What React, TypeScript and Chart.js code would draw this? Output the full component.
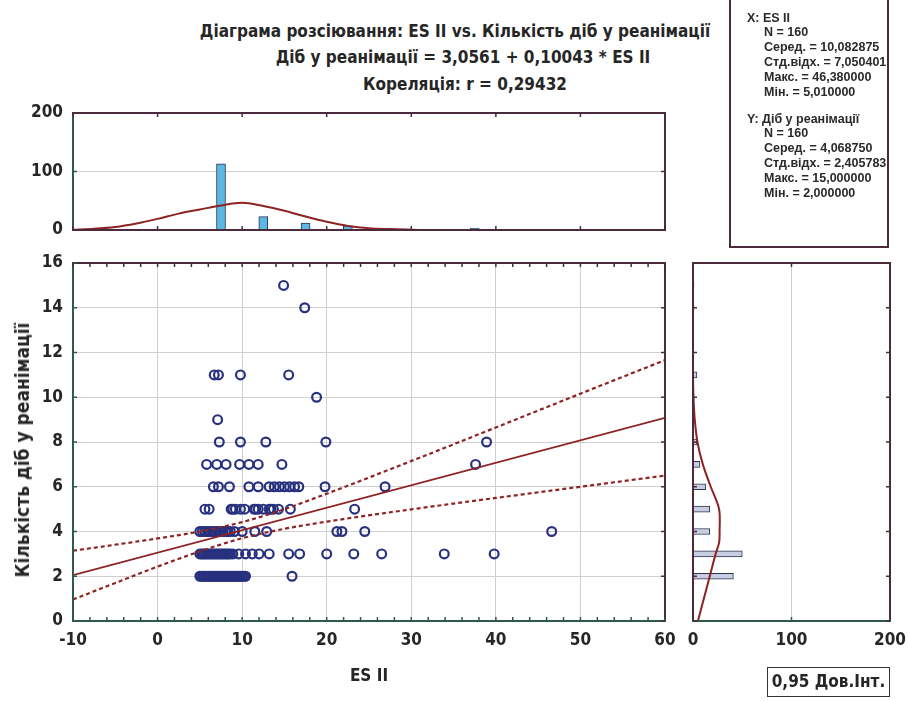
import React, { useEffect, useRef } from "react";
import { Chart, registerables } from "chart.js";

Chart.register(...registerables);

// ---------------- DATA ----------------
const titleLines = [
  "Діаграма розсіювання: ES II vs. Кількість діб у реанімації",
  "Діб у реанімації = 3,0561 + 0,10043 * ES II",
  "Кореляція: r = 0,29432",
];
const xAxisTitle = "ES II";
const yAxisTitle = "Кількість діб у реанімації";
const legendLabel = "0,95 Дов.Інт.";
const statsXHead = "X: ES II";
const statsX = ["N = 160", "Серед. = 10,082875", "Стд.відх. = 7,050401", "Макс. = 46,380000", "Мін. = 5,010000"];
const statsYHead = "Y: Діб у реанімації";
const statsY = ["N = 160", "Серед. = 4,068750", "Стд.відх. = 2,405783", "Макс. = 15,000000", "Мін. = 2,000000"];

// scatter: ES II values for each number of days
const days2 = [5.0, 5.2, 5.4, 5.6, 5.8, 6.0, 6.2, 6.4, 6.6, 6.8, 7.0, 7.2, 7.4, 7.6, 7.8, 8.0, 8.2, 8.4, 8.6, 8.8, 9.0, 9.2, 9.4, 9.6, 9.8, 10.0, 10.2, 10.4, 15.9];
const days3 = [5.0, 5.2, 5.4, 5.6, 5.8, 6.0, 6.2, 6.4, 6.6, 6.8, 7.0, 7.2, 7.4, 7.6, 7.8, 8.0, 8.2, 8.4, 8.6, 8.9, 9.6, 10.4, 11.2, 12.0, 13.2, 15.5, 16.8, 20.0, 23.2, 26.5, 33.9, 39.8];
const days4 = [5.0, 5.3, 5.6, 5.9, 6.2, 6.5, 6.8, 7.1, 7.4, 7.7, 8.0, 8.3, 8.6, 9.1, 10.0, 11.5, 12.9, 21.2, 21.8, 24.5, 46.6];
const days5 = [5.6, 6.1, 8.7, 8.9, 9.2, 9.8, 10.3, 11.4, 11.6, 11.9, 12.5, 13.2, 13.4, 13.7, 14.3, 15.7, 23.3];
const days6 = [6.6, 7.2, 8.5, 10.8, 11.9, 13.2, 13.8, 14.4, 15.0, 15.6, 16.2, 16.7, 19.8, 26.9];
const days7 = [5.8, 7.0, 8.1, 9.7, 10.8, 11.9, 14.7, 37.6];
const days8 = [7.3, 9.8, 12.8, 19.9, 38.9];
const days9 = [7.1];
const days10 = [18.8];
const days11 = [6.7, 7.2, 9.8, 15.5];
const days14 = [17.4];
const days15 = [14.9];
const scatterRows: [number, number[]][] = [
  [2, days2], [3, days3], [4, days4], [5, days5], [6, days6], [7, days7],
  [8, days8], [9, days9], [10, days10], [11, days11], [14, days14], [15, days15],
];

// regression line and 0.95 confidence band
const fitX = [-10, 60];
const fitY = [2.05, 9.08];
const bandX = [-10, -5, 0, 5, 10, 15, 20, 30, 40, 50, 60];
const bandUpper = [3.14, 3.41, 3.69, 4.0, 4.42, 5.0, 5.69, 7.15, 8.65, 10.16, 11.66];
const bandLower = [0.96, 1.7, 2.43, 3.11, 3.7, 4.12, 4.44, 4.99, 5.5, 6.0, 6.5];

// top histogram (ES II)
const histXCenters = [7.5, 12.5, 17.5, 22.5, 27.5, 32.5, 37.5, 47.5];
const histXCounts = [113, 23, 12, 7, 2, 1, 3, 1];
const normXAt = [-10, -7.5, -5, -2.5, 0, 2.5, 5, 7.5, 10, 12.5, 15, 17.5, 20, 22.5, 25, 27.5, 30, 35, 40, 50, 60];
const normXVal = [0.5, 2, 5, 11, 19, 28, 35, 42, 46.5, 41, 33, 23, 14, 7, 3, 1.5, 0.5, 0, 0, 0, 0];

// right histogram (days)
const histYValues = [2, 3, 4, 5, 6, 7, 8, 9, 10, 11, 14, 15];
const histYCounts = [41, 50, 17, 17, 13, 7, 4, 1, 1, 4, 1, 1];
const normYAt = [0, 1, 2, 3, 3.5, 4, 5, 6, 7, 8, 9, 10, 11, 16];
const normYVal = [5, 11, 17, 23, 26.5, 27, 26.5, 18, 10, 4.5, 1.8, 0.5, 0, 0];

// ---------------- STYLE ----------------
const FONT = "'Liberation Sans Narrow', 'Arial Narrow', 'DejaVu Sans Condensed', 'Liberation Sans', Arial, sans-serif";
const TEXT = "#262626";
const MAROON = "#4b2a3c";
const GREEN = "#2f5a48";
const GRID = "#cfcfcf";
const LINE_RED = "#8e2323";
const NAVY = "#27317f";

const tickFont = { family: FONT, size: 17, weight: "bold" as const };

const noPadX = (h: number) => (s: any) => { s.height = h; s.paddingLeft = 0; s.paddingRight = 0; };
const noPadY = (w: number) => (s: any) => { s.width = w; s.paddingTop = 0; s.paddingBottom = 0; };

const framePlugin = {
  id: "frame",
  afterDatasetsDraw(chart: any, _args: any, opts: any) {
    const { ctx, chartArea: a, scales } = chart;
    const xs = scales.x;
    const ys = scales.y;
    const len = opts.len ?? 4;
    ctx.save();
    ctx.lineWidth = 2;
    const side = (color: string, x1: number, y1: number, x2: number, y2: number) => {
      ctx.strokeStyle = color;
      ctx.beginPath();
      ctx.moveTo(x1, y1);
      ctx.lineTo(x2, y2);
      ctx.stroke();
    };
    side(opts.top, a.left - 1, a.top, a.right + 1, a.top);
    side(opts.right, a.right, a.top, a.right, a.bottom + 1);
    side(opts.left, a.left, a.top, a.left, a.bottom + 1);
    side(opts.bottom, a.left - 1, a.bottom, a.right + 1, a.bottom);
    ctx.lineWidth = 1.5;
    (opts.xTicks || []).forEach((v: number) => {
      const px = xs.getPixelForValue(v);
      side(opts.bottom, px, a.bottom, px, a.bottom - len);
      side(opts.top, px, a.top, px, a.top + len);
    });
    (opts.yTicks || []).forEach((v: number) => {
      const py = ys.getPixelForValue(v);
      side(opts.left, a.left, py, a.left + len, py);
      side(opts.right, a.right, py, a.right - len, py);
    });
    ctx.restore();
  },
};

function range(a: number, b: number, s: number) {
  const out: number[] = [];
  for (let v = a; v <= b + 1e-9; v += s) out.push(v);
  return out;
}

export default function App() {
  const mainRef = useRef<HTMLCanvasElement>(null);
  const topRef = useRef<HTMLCanvasElement>(null);
  const rightRef = useRef<HTMLCanvasElement>(null);

  useEffect(() => {
    const scatterPts: { x: number; y: number }[] = [];
    scatterRows.forEach(([d, xs]) => xs.forEach((x) => scatterPts.push({ x, y: d })));
    const fitPts = fitX.map((x, i) => ({ x, y: fitY[i] }));
    const upPts = bandX.map((x, i) => ({ x, y: bandUpper[i] }));
    const loPts = bandX.map((x, i) => ({ x, y: bandLower[i] }));

    const main = new Chart(mainRef.current!, {
      type: "scatter",
      data: {
        datasets: [
          { data: fitPts, showLine: true, borderColor: LINE_RED, borderWidth: 1.8, pointRadius: 0, order: 0 } as any,
          { data: upPts, showLine: true, borderColor: LINE_RED, borderWidth: 2.2, borderDash: [4, 3], pointRadius: 0, cubicInterpolationMode: "monotone", order: 0 } as any,
          { data: loPts, showLine: true, borderColor: LINE_RED, borderWidth: 2.2, borderDash: [4, 3], pointRadius: 0, cubicInterpolationMode: "monotone", order: 0 } as any,
          { data: scatterPts, pointRadius: 4.4, borderWidth: 2.2, borderColor: NAVY, backgroundColor: "rgba(255,255,255,0)", order: 1 } as any,
        ],
      },
      options: {
        responsive: false,
        animation: false,
        layout: { padding: { top: 18, right: 15, left: 0, bottom: 0 } },
        plugins: {
          legend: { display: false },
          tooltip: { enabled: false },
          frame: { top: MAROON, right: MAROON, left: GREEN, bottom: GREEN, xTicks: range(-10, 60, 2), yTicks: range(0, 16, 2), len: 4 },
        } as any,
        scales: {
          x: {
            type: "linear", min: -10, max: 60,
            border: { display: false },
            grid: { color: GRID, drawTicks: false },
            ticks: { stepSize: 10, padding: 9, font: tickFont, color: TEXT },
            title: { display: true, text: xAxisTitle, font: tickFont, color: TEXT, padding: { top: 0, bottom: 14 } },
            afterFit: noPadX(80),
          },
          y: {
            type: "linear", min: 0, max: 16,
            border: { display: false },
            grid: { color: GRID, drawTicks: false },
            ticks: { stepSize: 2, padding: 10, font: tickFont, color: TEXT },
            afterFit: noPadY(73),
          },
        } as any,
      },
      plugins: [framePlugin],
    });

    const top = new Chart(topRef.current!, {
      type: "bar",
      data: {
        datasets: [
          { type: "line", data: normXAt.map((x, i) => ({ x, y: normXVal[i] })), borderColor: LINE_RED, borderWidth: 2, pointRadius: 0, cubicInterpolationMode: "monotone", order: 0 } as any,
          { type: "bar", data: histXCenters.map((x, i) => ({ x, y: histXCounts[i] })), barThickness: 9, backgroundColor: "#5cb8e2", borderColor: "#2b3550", borderWidth: 1, order: 1 } as any,
        ],
      },
      options: {
        responsive: false,
        animation: false,
        layout: { padding: { top: 13, right: 15, left: 0, bottom: 10 } },
        plugins: {
          legend: { display: false },
          tooltip: { enabled: false },
          frame: { top: MAROON, right: MAROON, left: GREEN, bottom: MAROON, xTicks: range(-10, 60, 10), yTicks: [100], len: 4 },
        } as any,
        scales: {
          x: { type: "linear", min: -10, max: 60, display: false, offset: false },
          y: {
            type: "linear", min: 0, max: 200,
            border: { display: false },
            grid: { drawTicks: false, color: (c: any) => (c.tick && c.tick.value === 100 ? GRID : "rgba(0,0,0,0)") },
            ticks: { stepSize: 100, padding: 10, font: tickFont, color: TEXT },
            afterFit: noPadY(73),
          },
        } as any,
      },
      plugins: [framePlugin],
    });

    const right = new Chart(rightRef.current!, {
      type: "bar",
      data: {
        datasets: [
          { type: "line", data: normYAt.map((y, i) => ({ x: normYVal[i], y })), borderColor: LINE_RED, borderWidth: 2, pointRadius: 0, tension: 0.3, order: 0 } as any,
          { type: "bar", data: histYValues.map((y, i) => ({ x: histYCounts[i], y })), barThickness: 6, backgroundColor: "#c9cde2", borderColor: "#2b3550", borderWidth: 1, order: 1 } as any,
        ],
      },
      options: {
        indexAxis: "y",
        responsive: false,
        animation: false,
        layout: { padding: { top: 18, right: 18, left: 13, bottom: 0 } },
        plugins: {
          legend: { display: false },
          tooltip: { enabled: false },
          frame: { top: MAROON, right: MAROON, left: MAROON, bottom: GREEN, xTicks: [100], yTicks: range(0, 16, 2), len: 4 },
        } as any,
        scales: {
          x: {
            type: "linear", min: 0, max: 200,
            border: { display: false },
            grid: { drawTicks: false, color: (c: any) => (c.tick && c.tick.value === 100 ? GRID : "rgba(0,0,0,0)") },
            ticks: { stepSize: 100, padding: 9, font: tickFont, color: TEXT },
            afterFit: noPadX(80),
          },
          y: { type: "linear", min: 0, max: 16, display: false, offset: false },
        } as any,
      },
      plugins: [framePlugin],
    });

    return () => {
      main.destroy();
      top.destroy();
      right.destroy();
    };
  }, []);

  const titleCenters = [455, 463, 465];
  const titleYs = [31, 57, 84];
  const statLine = (text: string, left: number, top: number) => (
    <div key={text + top} style={{ position: "absolute", left, top, whiteSpace: "nowrap", fontFamily: "'Liberation Sans', Arial, sans-serif", fontWeight: "bold", fontSize: 12.5, lineHeight: "14px", color: "#2a2a2a" }}>{text}</div>
  );

  return (
    <div style={{ position: "absolute", left: 0, top: 0, width: 908, height: 701, background: "#fff", overflow: "hidden" }}>
      {titleLines.map((t, i) => (
        <div key={t} style={{ position: "absolute", left: titleCenters[i] - 350, width: 700, top: titleYs[i] - 11, lineHeight: "22px", textAlign: "center", fontFamily: FONT, fontWeight: "bold", fontSize: 17, color: TEXT, whiteSpace: "nowrap" }}>{t}</div>
      ))}
      <canvas ref={topRef} width={680} height={140} style={{ position: "absolute", left: 0, top: 100, width: 680, height: 140 }} />
      <canvas ref={mainRef} width={680} height={456} style={{ position: "absolute", left: 0, top: 245, width: 680, height: 456 }} />
      <canvas ref={rightRef} width={228} height={456} style={{ position: "absolute", left: 680, top: 245, width: 228, height: 456 }} />
      <div style={{ position: "absolute", left: 22, top: 450, transform: "translate(-50%, -50%) rotate(-90deg)", whiteSpace: "nowrap", fontFamily: FONT, fontWeight: "bold", fontSize: 19, lineHeight: "22px", color: TEXT }}>{yAxisTitle}</div>
      <div style={{ position: "absolute", left: 729, top: -4, width: 156, height: 248, border: `2px solid ${MAROON}`, overflow: "hidden" }}>
        {statLine(statsXHead, 16, 13)}
        {statsX.map((t, i) => statLine(t, 33, 27 + i * 15))}
        {statLine(statsYHead, 16, 114)}
        {statsY.map((t, i) => statLine(t, 33, 128 + i * 15))}
      </div>
      <div style={{ position: "absolute", left: 767, top: 667, width: 123, height: 30, border: "1.5px solid #333", boxSizing: "border-box", textAlign: "center", lineHeight: "27px", fontFamily: FONT, fontWeight: "bold", fontSize: 17, color: TEXT, whiteSpace: "nowrap" }}>{legendLabel}</div>
    </div>
  );
}
